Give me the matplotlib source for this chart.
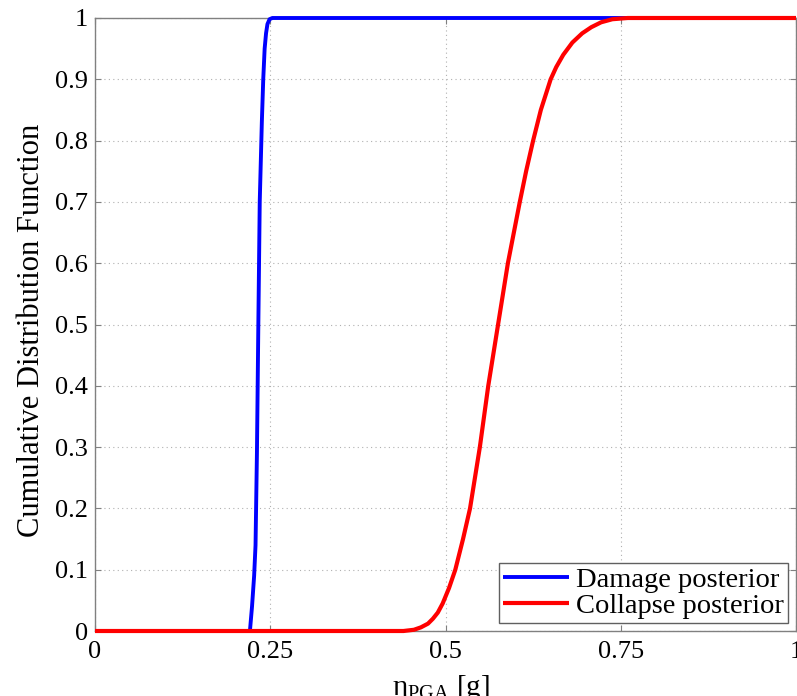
import numpy as np
import matplotlib
matplotlib.use('Agg')
import matplotlib.pyplot as plt

plt.rcParams['font.family'] = ['Liberation Serif', 'DejaVu Serif']
plt.rcParams['mathtext.fontset'] = 'custom'
plt.rcParams['mathtext.rm'] = 'Liberation Serif'
plt.rcParams['mathtext.it'] = 'Liberation Serif:italic'

# CDF curves
damage_x = [0.0, 0.221, 0.224, 0.227, 0.229, 0.231, 0.233, 0.235, 0.238,
            0.240, 0.242, 0.244, 0.246, 0.249, 0.253, 1.0]
damage_cdf = [0.0, 0.0, 0.04, 0.09, 0.14, 0.29, 0.5, 0.7, 0.83,
              0.9, 0.95, 0.975, 0.99, 0.998, 1.0, 1.0]

collapse_x = [0.0, 0.44, 0.455, 0.465, 0.475, 0.482, 0.489, 0.496, 0.505,
              0.514, 0.525, 0.535, 0.542, 0.549, 0.561, 0.575, 0.589,
              0.606, 0.615, 0.625, 0.636, 0.650, 0.658, 0.668, 0.681,
              0.695, 0.708, 0.722, 0.738, 0.76, 1.0]
collapse_cdf = [0.0, 0.0, 0.002, 0.006, 0.012, 0.02, 0.03, 0.045, 0.07,
                0.1, 0.15, 0.2, 0.25, 0.3, 0.4, 0.5, 0.6,
                0.7, 0.75, 0.8, 0.85, 0.9, 0.92, 0.94, 0.96,
                0.975, 0.985, 0.993, 0.998, 1.0, 1.0]

xticks = [0, 0.25, 0.5, 0.75, 1]
xticklabels = ['0', '0.25', '0.5', '0.75', '1']
yticks = np.round(np.arange(0, 1.01, 0.1), 1)
yticklabels = ['0'] + ['%.1f' % v for v in yticks[1:-1]] + ['1']

W, H = 797, 696
fig = plt.figure(figsize=(W / 100, H / 100), dpi=100)
ax = fig.add_axes([95 / W, 1 - 631 / H, 701 / W, 613 / H])

ax.plot(damage_x, damage_cdf, color='#0000ff', lw=2.8, clip_on=False,
        solid_capstyle='butt', solid_joinstyle='round',
        label='Damage posterior', zorder=3)
ax.plot(collapse_x, collapse_cdf, color='#ff0000', lw=3.0, clip_on=False,
        solid_capstyle='butt', solid_joinstyle='round',
        label='Collapse posterior', zorder=4)

ax.set_xlim(0, 1)
ax.set_ylim(0, 1)
ax.set_xticks(xticks)
ax.set_xticklabels(xticklabels)
ax.set_yticks(yticks)
ax.set_yticklabels(yticklabels)

ax.grid(True, color='#b0b0b0', linestyle=(0, (1, 3)), linewidth=0.8)
ax.set_axisbelow(True)
for s in ax.spines.values():
    s.set_color('#808080')
    s.set_linewidth(1.0)
ax.tick_params(direction='in', length=4, width=0.8, color='#808080',
               labelsize=19, top=True, right=True)
ax.tick_params(axis='y', pad=5)
ax.tick_params(axis='x', pad=7)

fig.text(32 / W, 1 - 330 / H, 'Cumulative Distribution Function',
         rotation=90, ha='center', va='center', fontsize=22)
fig.text(441 / W, 1 - 673 / H, r'η$_{\rm PGA}$ [g]', ha='center', va='top',
         fontsize=21)

leg = ax.legend(loc='lower right', fontsize=20.5, frameon=True, fancybox=False,
                framealpha=1, edgecolor='#606060', borderpad=0.15,
                labelspacing=0.0, handlelength=2.3, handletextpad=0.25,
                borderaxespad=0.28)
leg.get_frame().set_linewidth(1.0)

fig.savefig('out.png', dpi=100)
